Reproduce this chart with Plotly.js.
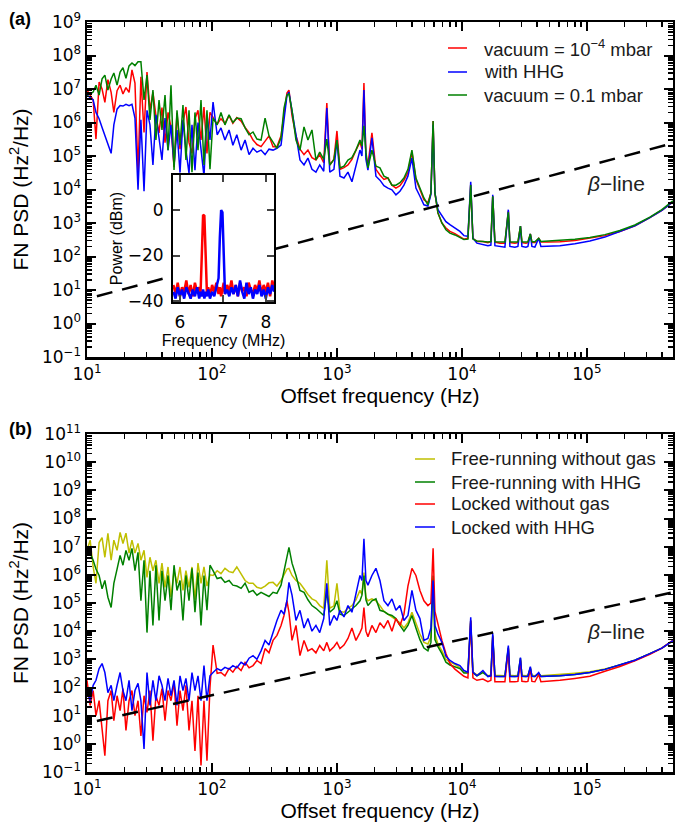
<!DOCTYPE html>
<html><head><meta charset="utf-8">
<script src="https://cdn.plot.ly/plotly-3.0.1.min.js"></script>
<style>html,body{margin:0;padding:0;background:#fff}</style>
</head><body><div id="chart" style="width:675px;height:829px"></div>
<script>
// Offset frequency grid (Hz), shared by all spectra
const freqHz = [10,10.6,11.2,11.8,12.5,13.2,13.9,14.7,15.6,16.4,
17.4,18.4,19.4,20.5,21.7,22.9,24.2,25.6,27.0,28.6,
30.2,31.9,33.7,35.6,37.7,39.8,42.1,44.5,47.0,49.7,
52.5,55.5,58.6,61.9,65.5,69.2,73.1,77.3,81.7,86.3,
91.2,96.4,102,110,118,127,137,147,158,171,
184,198,213,229,247,266,286,308,331,357,
377,398,413,437,470,506,545,586,631,679,
728,784,830,876,946,1000,1057,1138,1225,1318,
1419,1528,1585,1644,1706,1770,1905,2051,2208,2377,
2559,2754,2965,3192,3436,3698,3981,4285,4613,4966,
5346,5649,5880,6081,6427,6918,7447,8017,8790,9638,
10375,11169,11760,12246,13183,14723,16144,17061,17640,18365,
20137,22080,23520,24210,26546,28054,29400,30200,32509,33729,
35280,36308,38371,41160,42855,48753,60814,80168,105681,139316,
183654,242103,319154,398107,487528];

// Panel (a)
const aVacuumLow = [9.3e6,6.3e6,4.7e6,3.2e5,1.6e7,1e7,4.0e6,1.9e7,7.9e6,2.0e6,
8.9e6,1.3e7,7.1e6,1.1e7,7.9e6,3.7e7,1.5e7,3.1e4,2.3e7,5.0e5,
3.2e7,2.3e6,7.9e6,1.6e6,4.9e5,2.8e6,2.5e5,2.0e6,7.4e5,4.7e4,
1.9e6,1.6e5,1.0e6,2.9e6,2.5e5,1.2e5,1.3e6,2.3e6,3.0e5,2.9e6,
1.2e5,2.0e6,1.4e6,8.9e5,1.3e6,9.5e5,1.6e6,9.5e5,1.4e6,1.1e6,
7.1e5,5.0e5,3.0e5,2.2e5,1.9e5,2.8e5,4.0e5,1.9e5,1.9e5,4.0e5,
2.0e6,7.6e6,9.3e6,1.6e6,4.0e5,1.6e5,1.1e5,1.5e5,8.9e4,7.6e4,
1.1e5,6.3e4,3.8e6,5.4e4,7.9e4,5.6e5,4.0e4,4.5e4,5.4e4,7.9e4,
1.5e5,2.6e5,1.6e5,1.5e7,1.0e5,5.4e4,4.9e5,4.0e4,2.7e4,2.0e4,
2.2e4,1.35e4,1.1e4,1.3e4,1.9e4,3.2e4,1.3e5,2.0e4,1.0e4,4.9e3,
4.0e3,7.9e3,1.1e6,7.9e3,2.0e3,1.0e3,710,560,480,400,
330,350,1.4e4,350,280,280,260,280,6.3e3,270,
250,250,2.3e3,260,250,260,810,260,250,260,
470,260,260,350,270,270,275,300,350,420,
560,830,1450,2400,4300];
const aWithHHG = [6.6e6,5.6e6,4.7e6,2.0e6,1.3e6,7.1e5,4.0e5,2.1e5,1.2e5,8.5e5,
2.5e6,3.2e6,3.1e6,3.5e6,3.2e6,3.5e6,1.35e6,9.8e3,1.2e6,8.9e3,
2.3e6,8.5e5,5.4e4,1.7e6,3.0e5,7.6e4,1.35e6,1.5e5,8.5e5,5.4e4,
6.0e5,3.2e4,1.2e6,1.5e5,3.1e4,8.5e5,3.8e4,1.0e6,1.6e5,2.5e4,
1.7e6,3.0e5,4.1e6,4.3e5,6.9e5,3.0e5,6.0e5,2.1e5,4.3e5,1.5e5,
3.0e5,1.1e5,1.7e5,1.3e5,1.5e5,1.1e5,1.6e5,1.5e5,1.7e5,2.1e5,
1.2e6,6.3e6,8.1e6,2.5e6,4.3e5,7.6e4,5.4e4,8.7e4,4.0e4,3.3e4,
5.4e4,3.5e4,2.7e6,3.3e4,4.0e4,3.0e5,2.5e4,2.2e4,3.3e4,1.7e4,
5.4e4,1.5e5,1.0e5,9.3e6,7.9e4,3.8e4,3.5e5,2.5e4,1.9e4,1.3e4,
1.1e4,9.8e3,6.9e3,8.9e3,1.35e4,2.5e4,8.7e4,1.1e4,6.3e3,3.5e3,
3.2e3,7.1e3,8.5e5,7.9e3,2.5e3,1.6e3,1.1e3,890,710,560,
420,400,1.7e4,350,250,230,210,220,6.9e3,210,
200,190,2.5e3,200,190,200,810,200,190,200,
470,200,190,350,200,200,210,240,290,380,
550,830,1450,2400,4300];
const aVacuumHigh = [6.6e6,7.1e6,8.1e6,1.3e7,6.6e6,2.0e7,2.6e7,9.3e6,2.0e7,3.0e7,
1.3e7,3.2e7,4.3e7,2.1e7,4.9e7,6.0e7,5.0e7,6.5e7,6.5e7,4.7e6,
2.6e7,1.2e6,9.3e6,3.0e5,4.7e6,6.0e5,6.6e6,1.5e5,1.3e7,3.8e4,
2.3e6,2.1e5,3.3e6,7.6e4,2.3e6,3.3e4,2.0e6,1.5e5,4.7e6,5.4e4,
2.3e6,4.0e4,1.35e6,8.5e5,2.0e6,8.5e5,1.7e6,1.0e6,1.35e6,1.3e6,
6.9e5,4.3e5,5.2e5,3.2e5,3.0e5,1.35e6,4.0e5,2.5e5,1.7e5,3.5e5,
2.7e6,6.6e6,7.1e6,2.3e6,3.0e5,1.5e5,7.4e5,3.0e5,6.0e5,7.6e4,
1.3e5,7.9e4,3.2e5,5.4e4,7.9e4,3.0e5,4.4e4,5.0e4,7.6e4,8.9e4,
1.5e5,3.0e5,2.0e5,7.9e5,1.3e5,4.4e4,1.5e5,5.0e4,4.4e4,2.5e4,
2.2e4,1.35e4,1.35e4,1.6e4,2.2e4,4.0e4,1.5e5,2.2e4,1.1e4,5.6e3,
3.5e3,7.9e3,1.1e6,7.9e3,2.0e3,1.0e3,630,500,440,380,
320,330,1.35e4,330,290,280,270,280,6.3e3,275,
270,270,2.1e3,275,270,275,810,275,270,275,
470,275,275,350,280,290,300,330,370,450,
600,870,1500,2500,4600];

// Panel (b)
const bFreeNoGas = [7.4e6,1.7e7,1.9e6,5.0e5,1.4e7,2.1e7,4.2e6,3.0e7,3.3e6,1.7e7,
7.4e6,3.2e7,1.3e7,3.0e7,5.9e6,1.7e7,5.9e6,1.3e7,3.3e6,7.4e6,
8.1e5,4.2e6,1.4e6,3.3e6,5.0e5,2.6e6,3.6e5,1.9e6,1.6e5,1.4e6,
5.0e5,1.9e6,2.8e5,1.4e6,3.6e5,1.9e6,1.3e5,2.6e6,5.0e5,1.9e6,
4.0e5,1.0e6,9.5e5,1.4e6,1.1e6,1.7e6,1.3e6,1.2e6,1.9e6,1.1e6,
6.3e5,5.0e5,5.0e5,3.6e5,3.3e5,4.0e5,5.2e5,5.4e5,4.0e5,6.3e5,
9.5e5,1.6e6,1.7e6,9.5e5,6.3e5,5.0e5,3.2e5,2.0e5,1.4e5,1.2e5,
8.1e4,6.5e4,3.3e6,6.5e4,7.9e4,5.0e5,5.0e4,4.7e4,6.5e4,8.1e4,
1.3e5,2.8e5,2.0e5,1.2e6,1.6e5,1.2e5,1.4e5,1.2e5,8.1e4,5.0e4,
4.0e4,3.2e4,2.4e4,2.0e4,1.3e4,2.0e4,4.7e4,2.0e4,7.9e3,4.0e3,
3.5e3,6.3e3,7.4e5,7.9e3,3.5e3,2.0e3,1.0e3,790,660,510,
350,350,2.0e4,350,280,360,260,280,6.0e3,270,
260,260,2.4e3,270,260,270,980,270,260,270,
470,270,260,310,260,270,290,320,360,450,
620,930,1600,2500,4700];
const bFreeHHG = [5.9e6,5.9e6,3.3e6,1.6e6,9.5e5,3.2e5,6.3e5,1.6e5,6.9e4,5.0e5,
1.6e6,4.9e6,2.2e6,7.4e6,3.3e6,8.7e6,1.4e6,6.3e6,1.2e5,3.3e6,
8.9e3,1.4e6,1.6e4,2.2e6,2.4e4,1.4e6,1.2e5,9.5e5,5.5e4,2.2e6,
2.8e5,6.3e5,2.4e4,9.5e5,1.2e5,1.7e6,4.7e4,1.2e6,1.6e4,9.5e5,
5.5e4,2.2e6,1.4e6,7.4e5,8.1e5,5.4e5,6.3e5,4.3e5,4.0e5,3.3e5,
5.0e5,2.4e5,2.8e5,1.9e5,2.4e5,2.0e5,1.7e5,2.4e5,2.2e5,4.3e5,
1.4e6,5.6e6,9.5e6,2.6e6,9.5e5,2.8e5,2.4e5,1.3e5,8.1e4,6.5e4,
4.7e4,3.6e4,2.5e5,4.7e4,6.3e4,1.2e5,4.0e4,3.6e4,4.7e4,6.3e4,
8.1e4,1.2e5,1.9e5,9.5e5,1.3e5,8.1e4,1.2e5,1.4e5,5.5e4,5.0e4,
4.0e4,3.6e4,2.8e4,1.6e4,1.0e4,1.6e4,3.6e4,1.3e4,5.0e3,2.5e3,
2.0e3,4.0e3,9.5e5,5.0e3,2.8e3,1.6e3,790,630,550,470,
330,330,2.4e4,330,260,340,250,260,7.1e3,250,
245,245,2.6e3,250,245,250,1.1e3,250,245,250,
510,250,245,310,245,250,260,290,340,440,
620,930,1600,2500,4500];
const bLockedNoGas = [180,23,78,10,34,4.4,0.38,34,78,6.6,
51,15,91,3.0,34,78,10,34,1.9,51,
13,78,1.3,51,23,91,6.6,78,34,150,
4.4,78,15,120,3.0,34,0.56,51,0.17,34,
0.25,100,3.2e3,320,340,260,470,350,560,400,
780,500,600,910,710,2.4e3,1.7e3,4.7e3,7.1e3,1.6e4,
3.6e4,1.2e5,4.7e4,4.7e3,1.6e4,1.35e3,4.7e3,2.0e3,2.4e3,1.7e3,
3.1e3,2.0e3,4.0e3,2.0e3,2.8e3,4.0e3,2.4e3,3.2e3,5.5e3,1.3e4,
4.7e3,8.9e3,1.3e4,6.9e4,1.0e4,6.3e3,1.6e4,8.9e3,2.0e4,1.3e4,
2.4e4,1.0e4,2.8e4,1.6e4,4.0e4,4.0e5,1.7e6,9.5e5,2.8e5,1.2e5,
8.1e4,1.0e5,8.7e6,5.0e4,1.6e4,4.7e3,1.6e3,710,450,330,
250,220,2.4e4,220,180,200,160,180,6.5e3,160,
160,160,2.4e3,160,160,165,910,165,160,165,
470,165,160,290,160,165,180,210,250,380,
560,890,1500,2500,4700];
const bLockedHHG = [78,34,120,180,470,710,340,66,120,34,
120,340,78,34,180,15,78,140,34,0.66,
340,23,180,34,260,120,34,210,51,180,
23,260,78,210,34,340,78,260,34,600,
34,260,340,470,400,520,450,600,500,780,
630,1.1e3,1.35e3,1.0e3,2.0e3,4.7e3,3.2e3,8.9e3,2.4e4,5.5e4,
4.0e4,1.2e5,5.4e5,1.9e5,2.4e4,5.5e4,1.3e4,2.8e4,1.0e4,1.6e4,
8.9e3,2.8e4,5.0e5,1.6e4,3.6e4,2.4e4,5.5e4,3.2e4,8.1e4,4.7e4,
1.9e5,9.5e5,6.3e5,1.9e7,6.3e5,4.3e5,9.5e5,1.7e6,6.3e5,1.2e5,
8.1e4,1.4e5,5.5e4,8.1e4,2.4e4,3.6e4,2.8e5,5.5e4,2.8e4,4.7e3,
5.5e3,1.3e4,6.3e5,1.6e4,7.9e3,4.0e3,1.3e3,910,710,600,
400,350,3.1e4,350,260,400,245,260,8.3e3,245,
245,245,3.1e3,245,245,250,1.15e3,250,245,250,
550,250,245,340,245,250,260,290,340,440,
620,930,1600,2500,4600];

// beta-line end points
const betaFreq = [12, 487528];
const betaPSD = [6.5, 2.4e5];

// Inset: beat-note spectrum
const insetFreqMHz = [5.85,5.9,5.95,6.0,6.05,6.1,6.15,6.2,6.25,6.3,6.35,6.4,6.45,6.48,6.51,6.54,6.57,6.60,6.63,6.66,
6.7,6.75,6.8,6.85,6.9,6.93,6.96,6.99,7.02,7.05,7.1,7.15,7.2,7.25,7.3,7.35,7.4,7.45,7.5,7.55,
7.6,7.65,7.7,7.75,7.8,7.85,7.9,7.95,8.0,8.05,8.1,8.15,8.19];
const insetRed = [-33,-37,-32,-38,-34,-36,-31,-37,-33,-38,-32,-36,-34,-37,-20,-2,-2.5,-22,-37,-34,
-38,-33,-36,-32,-37,-34,-38,-35,-32,-37,-33,-36,-31,-37,-33,-38,-32,-36,-34,-38,
-32,-35,-37,-33,-36,-31,-37,-33,-36,-32,-38,-31,-34];
const insetBlue = [-36,-39,-34,-38,-35,-39,-34,-37,-39,-35,-38,-34,-39,-36,-38,-35,-39,-36,-38,-35,
-39,-36,-38,-34,-30,-12,0,-1,-16,-37,-35,-38,-34,-37,-33,-38,-31,-36,-39,-32,
-37,-34,-39,-35,-37,-33,-38,-35,-39,-34,-37,-33,-36];

// Tick labels
const xTickVals = [10,100,1000,10000,100000];
const xTickText = ['10<sup>1</sup>','10<sup>2</sup>','10<sup>3</sup>','10<sup>4</sup>','10<sup>5</sup>'];
const yTickValsA = [0.1,1,10,100,1e3,1e4,1e5,1e6,1e7,1e8,1e9];
const yTickValsB = [0.1,1,10,100,1e3,1e4,1e5,1e6,1e7,1e8,1e9,1e10,1e11];
const yTickTextB = ['10<sup>\u22121</sup>','10<sup>0</sup>','10<sup>1</sup>','10<sup>2</sup>','10<sup>3</sup>','10<sup>4</sup>','10<sup>5</sup>','10<sup>6</sup>','10<sup>7</sup>','10<sup>8</sup>','10<sup>9</sup>','10<sup>10</sup>','10<sup>11</sup>'];
const yTickTextA = yTickTextB.slice(0, 11);
const insetXTicks = [6,7,8];
const insetYTicks = [-40,-20,0];

// Legend labels
const legendA = ['vacuum = 10<sup>\u22124</sup> mbar','with HHG','vacuum = 0.1 mbar'];
const legendB = ['Free-running without gas','Free-running with HHG','Locked without gas','Locked with HHG'];

// minor log ticks (axis decoration)
function minorVals(lo, hi){const v=[];for(let e=lo;e<hi;e++){for(let m=2;m<10;m++){v.push(m*Math.pow(10,e));}}return v;}

const FONT = 'Liberation Sans, Arial, Helvetica, sans-serif';
const TFONT = 'DejaVu Sans, sans-serif';
const RED='#ff0000', BLUE='#0000ff', GREEN='#008000', YEL='#bfbf00';
const LW = 1.5;
const colorsA = [RED, BLUE, GREEN];
const colorsB = [YEL, GREEN, RED, BLUE];

const traces = [
 {x:freqHz,y:aVacuumLow,name:'vacuum = 10^-4 mbar',type:'scatter',mode:'lines',line:{color:RED,width:LW},xaxis:'x',yaxis:'y',showlegend:false},
 {x:freqHz,y:aWithHHG,name:'with HHG',type:'scatter',mode:'lines',line:{color:BLUE,width:LW},xaxis:'x',yaxis:'y',showlegend:false},
 {x:freqHz,y:aVacuumHigh,name:'vacuum = 0.1 mbar',type:'scatter',mode:'lines',line:{color:GREEN,width:LW},xaxis:'x',yaxis:'y',showlegend:false},
 {x:betaFreq,y:betaPSD,name:'beta-line',type:'scatter',mode:'lines',line:{color:'#000',width:2.5,dash:'16px,10px'},xaxis:'x',yaxis:'y',showlegend:false},
 {x:freqHz,y:bFreeNoGas,name:legendB[0],type:'scatter',mode:'lines',line:{color:YEL,width:LW},xaxis:'x2',yaxis:'y2',showlegend:false},
 {x:freqHz,y:bFreeHHG,name:legendB[1],type:'scatter',mode:'lines',line:{color:GREEN,width:LW},xaxis:'x2',yaxis:'y2',showlegend:false},
 {x:freqHz,y:bLockedNoGas,name:legendB[2],type:'scatter',mode:'lines',line:{color:RED,width:LW},xaxis:'x2',yaxis:'y2',showlegend:false},
 {x:freqHz,y:bLockedHHG,name:legendB[3],type:'scatter',mode:'lines',line:{color:BLUE,width:LW},xaxis:'x2',yaxis:'y2',showlegend:false},
 {x:betaFreq,y:betaPSD,name:'beta-line',type:'scatter',mode:'lines',line:{color:'#000',width:2.5,dash:'16px,10px'},xaxis:'x2',yaxis:'y2',showlegend:false},
 {x:insetFreqMHz,y:insetRed,type:'scatter',mode:'lines',line:{color:RED,width:2.5},xaxis:'x3',yaxis:'y3',showlegend:false},
 {x:insetFreqMHz,y:insetBlue,type:'scatter',mode:'lines',line:{color:BLUE,width:2.5},xaxis:'x3',yaxis:'y3',showlegend:false}
];

function logX(anchor){
  return {type:'log',range:[1,5.689],domain:[87/675,673/675],anchor:anchor,
    showgrid:false,zeroline:false,showline:true,linewidth:2.5,linecolor:'#000',mirror:'allticks',
    ticks:'inside',ticklen:9,tickwidth:2,tickcolor:'#000',
    tickmode:'array',tickvals:xTickVals,ticktext:xTickText,
    tickfont:{family:TFONT,size:17,color:'#000'},
    minor:{tickmode:'array',tickvals:minorVals(1,6),ticks:'inside',ticklen:5,tickwidth:1.5,tickcolor:'#000'},
    title:{text:'Offset frequency (Hz)',font:{family:FONT,size:21,color:'#000'},standoff:4}};
}
function logY(dom, range, vals, text, anchor){
  return {type:'log',range:range,domain:dom,anchor:anchor,
    showgrid:false,zeroline:false,showline:true,linewidth:2.5,linecolor:'#000',mirror:'allticks',
    ticks:'inside',ticklen:9,tickwidth:2,tickcolor:'#000',
    tickmode:'array',tickvals:vals,ticktext:text,
    tickfont:{family:TFONT,size:17,color:'#000'},
    minor:{tickmode:'array',tickvals:minorVals(-1,range[1]),ticks:'inside',ticklen:5,tickwidth:1.5,tickcolor:'#000'},
    title:{text:'FN PSD (Hz<sup>2</sup>/Hz)',font:{family:FONT,size:21,color:'#000'},standoff:8}};
}

// hand-placed legend (text + sample line), matching the reference spacing
const annotations = [
  {text:'<b>(a)</b>',xref:'paper',yref:'paper',x:7/675,y:1-19/829,xanchor:'left',yanchor:'middle',showarrow:false,font:{family:FONT,size:18,color:'#000'}},
  {text:'<b>(b)</b>',xref:'paper',yref:'paper',x:7/675,y:1-429/829,xanchor:'left',yanchor:'middle',showarrow:false,font:{family:FONT,size:18,color:'#000'}},
  {text:'<i>β</i>\u2212line',xref:'paper',yref:'paper',x:616/675,y:1-183/829,xanchor:'center',yanchor:'middle',showarrow:false,font:{family:FONT,size:21,color:'#222'}},
  {text:'<i>β</i>\u2212line',xref:'paper',yref:'paper',x:616/675,y:1-631/829,xanchor:'center',yanchor:'middle',showarrow:false,font:{family:FONT,size:21,color:'#222'}}
];
const shapes = [];
const rowsA = [48, 72, 95];
legendA.forEach((t,i)=>{
  annotations.push({text:t,xref:'paper',yref:'paper',x:482/675,y:1-rowsA[i]/829,xanchor:'left',yanchor:'middle',showarrow:false,font:{family:FONT,size:18.5,color:'#1a1a1a'}});
  shapes.push({type:'line',xref:'paper',yref:'paper',x0:448/675,x1:467/675,y0:1-rowsA[i]/829,y1:1-rowsA[i]/829,line:{color:colorsA[i],width:1.5}});
});
const rowsB = [459, 482, 504, 527];
legendB.forEach((t,i)=>{
  annotations.push({text:t,xref:'paper',yref:'paper',x:449/675,y:1-rowsB[i]/829,xanchor:'left',yanchor:'middle',showarrow:false,font:{family:FONT,size:18.5,color:'#1a1a1a'}});
  shapes.push({type:'line',xref:'paper',yref:'paper',x0:415/675,x1:435/675,y0:1-rowsB[i]/829,y1:1-rowsB[i]/829,line:{color:colorsB[i],width:1.5}});
});

const layout = {
  width:675,height:829,margin:{l:0,r:0,t:0,b:0},
  paper_bgcolor:'#fff',plot_bgcolor:'#fff',showlegend:false,
  font:{family:FONT,color:'#000'},
  xaxis: logX('y'),
  yaxis: logY([1-357/829,1-22/829],[-1,9],yTickValsA,yTickTextA,'x'),
  xaxis2: logX('y2'),
  yaxis2: logY([1-772/829,1-434/829],[-1,11],yTickValsB,yTickTextB,'x2'),
  xaxis3:{range:[5.84,8.19],domain:[173/675,274/675],anchor:'y3',showgrid:false,zeroline:false,
    showline:true,linewidth:2,linecolor:'#000',mirror:'allticks',ticks:'inside',ticklen:7,tickwidth:2,
    tickmode:'array',tickvals:insetXTicks,tickfont:{family:TFONT,size:17,color:'#000'},ticklabelstandoff:4,
    title:{text:'Frequency (MHz)',font:{family:FONT,size:16,color:'#000'},standoff:0}},
  yaxis3:{range:[-40.5,15.5],domain:[1-302/829,1-175/829],anchor:'x3',showgrid:false,zeroline:false,
    showline:true,linewidth:2,linecolor:'#000',mirror:'allticks',ticks:'inside',ticklen:7,tickwidth:2,
    tickmode:'array',tickvals:insetYTicks,tickfont:{family:TFONT,size:17,color:'#000'},ticklabelstandoff:4,
    title:{text:'Power (dBm)',font:{family:FONT,size:16,color:'#000'},standoff:1}},
  annotations:annotations,
  shapes:shapes
};

Plotly.newPlot('chart', traces, layout, {staticPlot:true});
</script></body></html>
